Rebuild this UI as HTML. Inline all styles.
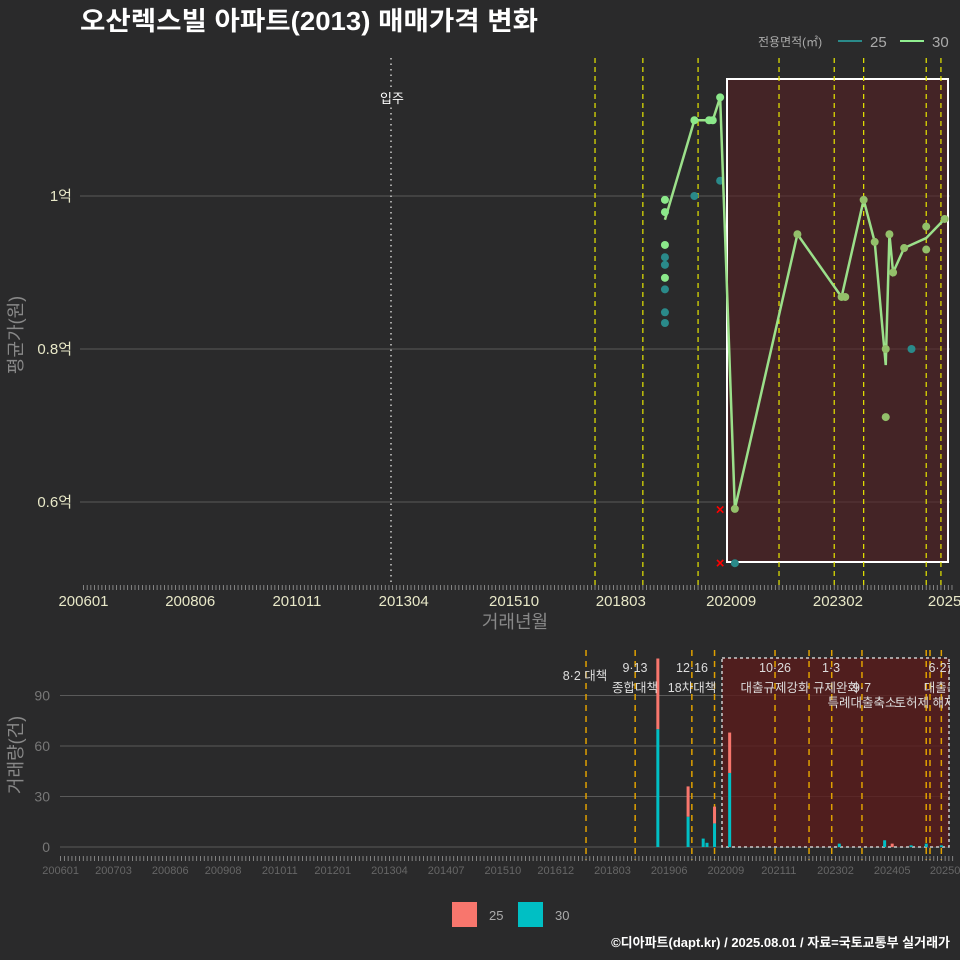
<!DOCTYPE html>
<html><head><meta charset="utf-8"><style>
html,body{margin:0;padding:0;background:#2a2a2b;}
svg{display:block;font-family:"Liberation Sans","Noto Sans CJK KR",sans-serif;}
</style></head><body>
<svg id="c" width="960" height="960" viewBox="0 0 960 960" xmlns="http://www.w3.org/2000/svg">
<rect x="0" y="0" width="960" height="960" fill="#2a2a2b"/>
<text x="80" y="30" fill="#ffffff" font-size="26" font-weight="bold" textLength="458" lengthAdjust="spacingAndGlyphs">오산렉스빌 아파트(2013) 매매가격 변화</text>
<g>
<text x="758" y="46" fill="#aaaaaa" font-size="12">전용면적(㎡)</text>
<line x1="838" y1="41" x2="862" y2="41" stroke="#2a8a8a" stroke-width="2"/>
<text x="870" y="47" fill="#aaaaaa" font-size="15">25</text>
<line x1="900" y1="41" x2="924" y2="41" stroke="#90ee90" stroke-width="2"/>
<text x="932" y="47" fill="#aaaaaa" font-size="15">30</text>
</g>
<text transform="translate(22,335) rotate(-90)" text-anchor="middle" fill="#888888" font-size="18">평균가(원)</text>
<text x="515" y="628" text-anchor="middle" fill="#888888" font-size="18">거래년월</text>
<text transform="translate(22,755) rotate(-90)" text-anchor="middle" fill="#888888" font-size="18">거래량(건)</text>
<g id="topg"></g>
<g id="botg"></g>
<g>
<rect x="452" y="902" width="25" height="25" fill="#f8766d"/>
<text x="489" y="920" fill="#aaaaaa" font-size="13">25</text>
<rect x="518" y="902" width="25" height="25" fill="#00bfc4"/>
<text x="555" y="920" fill="#aaaaaa" font-size="13">30</text>
</g>
<text x="950" y="947" text-anchor="end" fill="#ffffff" font-size="13" font-weight="bold">©디아파트(dapt.kr) / 2025.08.01 / 자료=국토교통부 실거래가</text>
</svg>
<script>
// months since 2006-01
const lineMonths = [158,166,170,171,173,177,194,206,212,215,218,219,220,223,229,234];
const lineValues = [0.969,1.099,1.099,1.099,1.129,0.591,0.95,0.868,0.995,0.94,0.779,0.95,0.90,0.932,0.945,0.97];
const pts30Months = [158,158,158,158,166,170,171,173,177,194,206,207,212,215,219,220,218,218,223,229,229,234];
const pts30Values = [0.995,0.979,0.936,0.893,1.099,1.099,1.099,1.129,0.591,0.95,0.868,0.868,0.995,0.94,0.95,0.90,0.80,0.711,0.932,0.96,0.93,0.97];
const pts25Months = [158,158,158,158,158,166,173,177,225];
const pts25Values = [0.92,0.91,0.878,0.848,0.834,1.0,1.02,0.52,0.80];
const crossMonths = [173,173];
const crossValues = [0.59,0.52];
const topTickMonths = [0,29,58,87,117,146,176,205,234];
const topTickLabels = ["200601","200806","201011","201304","201510","201803","202009","202302","2025"];
const yTicks = [0.6,0.8,1.0];
const yTickLabels = ["0.6억","0.8억","1억"];
const policyTop = [139,152,167,189,204,212,229,233];
const barMonths = [158,166,170,171,173,177,206,218,220,225,229,233];
const bar25 = [42,18,0,0,10,24,0,0,2,0,0,0];
const bar30 = [70,18,5,2.5,14,44,2,4,0,1,2,1];
const botTicks = [0,14,29,43,58,72,87,102,117,131,146,161,176,190,205,220,234];
const botLabels = ["200601","200703","200806","200908","201011","201201","201304","201407","201510","201612","201803","201906","202009","202111","202302","202405","20250"];
const volTicks = [0,30,60,90];
const policyBot = [139,152,167,173,189,198,204,212,229,230,233];

const NS="http://www.w3.org/2000/svg";
function mk(p,t,a){const e=document.createElementNS(NS,t);for(const k in a)e.setAttribute(k,a[k]);p.appendChild(e);return e;}
const xT=m=>83.5+3.68*m, yT=v=>196+(1-v)*765;
const xB=m=>60.6+3.78*m, yB=v=>847-v*1.683;
const topG=document.getElementById('topg'), botG=document.getElementById('botg');

yTicks.forEach((v,i)=>{
 const g=mk(topG,'line',{x1:80,x2:950,y1:yT(v),y2:yT(v),stroke:'#5a5a5a','stroke-width':1});
 
 
 const t=mk(topG,'text',{x:72,y:yT(v)+5,'text-anchor':'end',fill:'#e8e8c8','font-size':15});
 t.textContent=yTickLabels[i];
 
 
});
const hr=mk(topG,'rect',{x:727,y:79,width:221,height:483,fill:'#5a1f22','fill-opacity':0.55,stroke:'#ffffff','stroke-width':2});


policyTop.forEach(m=>{
 const l=mk(topG,'line',{x1:xT(m),x2:xT(m),y1:58,y2:585,stroke:'#e8e800','stroke-width':1.2,'stroke-dasharray':'5,4'});
 
 
});
const mv=mk(topG,'line',{x1:391,x2:391,y1:58,y2:585,stroke:'#cccccc','stroke-width':1.5,'stroke-dasharray':'1.5,4'});


mk(topG,'rect',{x:378,y:90,width:28,height:17,fill:'#2a2a2b'});
const mt=mk(topG,'text',{x:392,y:103,'text-anchor':'middle',fill:'#ffffff','font-size':13});
mt.textContent='입주';


pts25Months.forEach((m,i)=>{
 const c=mk(topG,'circle',{cx:xT(m),cy:yT(pts25Values[i]),r:4,fill:'#2a8a8a'});
 
 
});
const pl=mk(topG,'polyline',{points:lineMonths.map((m,i)=>xT(m)+','+yT(lineValues[i])).join(' '),fill:'none',stroke:'#9be08a','stroke-width':2.5});


pts30Months.forEach((m,i)=>{
 const c=mk(topG,'circle',{cx:xT(m),cy:yT(pts30Values[i]),r:4,fill:m>176?'#93c06a':'#8be88a'});
 
 
});
crossMonths.forEach((m,i)=>{
 const t=mk(topG,'text',{x:xT(m),y:yT(crossValues[i])+5,'text-anchor':'middle',fill:'#ff0000','font-size':15,'font-weight':'bold'});
 t.textContent='×';
 
 
});
for(let m=0;m<=236;m++){mk(topG,'line',{x1:xT(m),x2:xT(m),y1:585,y2:590,stroke:'#999','stroke-width':0.8});}
topTickMonths.forEach((m,i)=>{
 const t=mk(topG,'text',{x:xT(m),y:606,'text-anchor':'middle',fill:'#e8e8c8','font-size':15});
 t.textContent=topTickLabels[i];
 
 
});

volTicks.forEach(v=>{
 const g=mk(botG,'line',{x1:60,x2:950,y1:yB(v),y2:yB(v),stroke:'#5a5a5a','stroke-width':1});
 
 
 const t=mk(botG,'text',{x:50,y:yB(v)+5,'text-anchor':'end',fill:'#777777','font-size':14});
 t.textContent=v;
 
 
});
const br=mk(botG,'rect',{x:722,y:658,width:227,height:189,fill:'#5a1c1c','fill-opacity':0.8,stroke:'#cccccc','stroke-width':1.5,'stroke-dasharray':'3,3'});


policyBot.forEach(m=>{
 const l=mk(botG,'line',{x1:xB(m),x2:xB(m),y1:650,y2:860,stroke:'#e0a000','stroke-width':1.5,'stroke-dasharray':'6,5'});
 
 
});
barMonths.forEach((m,i)=>{
 const x=xB(m)-1.5;
 const b30=mk(botG,'rect',{x:x,y:yB(bar30[i]),width:3,height:bar30[i]*1.683,fill:'#00bfc4'});
 
 
 const b25=mk(botG,'rect',{x:x,y:yB(bar30[i]+bar25[i]),width:3,height:bar25[i]*1.683,fill:'#f8766d'});
 
 
});
const notes=[[585,680,'8·2 대책'],[635,672,'9·13'],[635,692,'종합대책'],[692,672,'12·16'],[692,692,'18차대책'],[775,672,'10·26'],[775,692,'대출규제강화'],[831,672,'1·3'],[836,692,'규제완화'],[862,692,'9·7'],[862,707,'특례대출축소'],[925,707,'토허제 해제'],[941,672,'6·27'],[941,692,'대출규']];
notes.forEach(n=>{
 const t=mk(botG,'text',{x:n[0],y:n[1],'text-anchor':'middle',fill:'#dddddd','font-size':12.5});
 t.textContent=n[2];
 
 
});
mk(botG,'rect',{x:950,y:640,width:10,height:260,fill:'#2a2a2b'});
for(let m=0;m<=236;m++){mk(botG,'line',{x1:xB(m),x2:xB(m),y1:856,y2:861,stroke:'#999','stroke-width':0.8});}
botTicks.forEach((m,i)=>{
 const t=mk(botG,'text',{x:xB(m),y:874,'text-anchor':'middle',fill:'#666666','font-size':11});
 t.textContent=botLabels[i];
 
 
});
</script>
</body></html>
